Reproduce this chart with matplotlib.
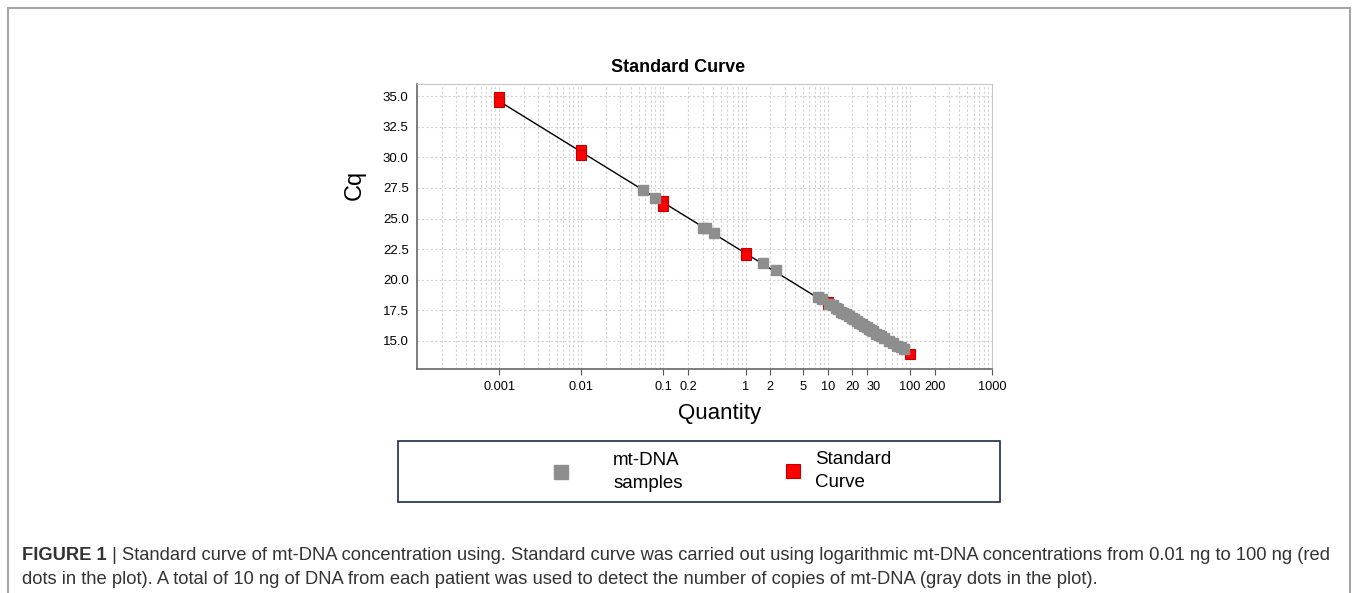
import matplotlib
matplotlib.use("Agg")
import matplotlib.pyplot as plt
import numpy as np
from matplotlib.patches import Rectangle

# standard curve points (replicates), quantity in ng
std_qty = [0.001, 0.001, 0.01, 0.01, 0.1, 0.1, 1, 1, 10, 10, 100]
std_cq = [34.9, 34.5, 30.6, 30.2, 26.4, 26.0, 22.2, 22.0, 18.2, 18.0, 13.9]

# mt-DNA samples
smp_qty = [0.057, 0.08, 0.30, 0.33, 0.41, 1.63, 2.34, 7.6, 8.5,
           10.5, 11.5, 12.5, 13.5, 14.5, 15.5, 16.5, 18, 19.5, 21, 22.5,
           24, 26, 28, 30, 32, 34, 36, 39, 42, 45, 48, 55, 62, 70, 78, 85]
smp_cq = [27.3, 26.7, 24.2, 24.2, 23.8, 21.4, 20.8, 18.6, 18.4,
          18.0, 17.9, 17.7, 17.6, 17.4, 17.3, 17.2, 17.0, 16.9, 16.8, 16.6,
          16.5, 16.4, 16.2, 16.1, 16.0, 15.9, 15.8, 15.6, 15.5, 15.4, 15.2, 15.0,
          14.8, 14.6, 14.5, 14.3]

xticks = [0.001, 0.01, 0.1, 0.2, 1, 2, 5, 10, 20, 30, 100, 200, 1000]
xticklabels = ["0.001", "0.01", "0.1", "0.2", "1", "2", "5", "10", "20", "30", "100", "200", "1000"]
yticks = [15.0, 17.5, 20.0, 22.5, 25.0, 27.5, 30.0, 32.5, 35.0]

plt.rcParams['font.family'] = ['Liberation Sans', 'DejaVu Sans']

W, H = 1355, 593
fig = plt.figure(figsize=(W / 100, H / 100), dpi=100)
fig.patches.append(Rectangle((8 / W, -0.05), 1342 / W, 1 - 8 / H + 0.05,
                             transform=fig.transFigure, fill=False,
                             edgecolor="#a6a6a6", lw=1.5))

ax = fig.add_axes([417 / W, 1 - 369 / H, 575 / W, 285 / H])
ax.set_xscale("log")
ax.set_xlim(1e-4, 1e3)
ax.set_ylim(12.7, 36.0)

# regression line through standards
b, a = np.polyfit(np.log10(std_qty), std_cq, 1)
lx = np.array([min(std_qty), max(std_qty)])
ax.plot(lx, a + b * np.log10(lx), color="black", lw=1.0, zorder=2)

red, = ax.plot(std_qty, std_cq, "s", ms=7.5, color="#ff0000",
               mec="#c00000", mew=0.8, zorder=3, label="Standard\nCurve")
gray, = ax.plot(smp_qty, smp_cq, "s", ms=7.5, color="#8e8e8e",
                mec="#8e8e8e", zorder=4, label="mt-DNA\nsamples")

ax.set_xticks(xticks)
ax.set_xticklabels(xticklabels, fontsize=9.2)
for lab in ax.get_xticklabels():
    if lab.get_text() == "30":
        lab.set_ha("left")
ax.xaxis.set_minor_locator(matplotlib.ticker.LogLocator(base=10, subs=np.arange(2, 10)))
ax.xaxis.set_minor_formatter(matplotlib.ticker.NullFormatter())
ax.tick_params(axis="x", which="major", length=4, pad=5, color="#555555")
ax.tick_params(axis="x", which="minor", length=0)
ax.set_yticks(yticks)
ax.set_yticklabels([f"{v:.1f}" for v in yticks], fontsize=9.5)
ax.tick_params(axis="y", length=0, pad=6)

ax.grid(True, which="both", axis="x", ls=(0, (2, 2)), color="#d2d2d2", lw=0.8)
ax.grid(True, which="major", axis="y", ls=(0, (2, 2)), color="#d2d2d2", lw=0.8)

for s in ["top", "right"]:
    ax.spines[s].set_color("#c8c8c8")
for s in ["left", "bottom"]:
    ax.spines[s].set_color("#666666")
    ax.spines[s].set_linewidth(1.2)

fig.text(678 / W, 1 - 68 / H, "Standard Curve", fontsize=13, fontweight="bold",
         ha="center", va="center")
fig.text(355 / W, 1 - 185 / H, "Cq", fontsize=17, rotation=90, ha="center", va="center")
fig.text(720 / W, 1 - 414 / H, "Quantity", fontsize=16, ha="center", va="center")

# legend box
fig.patches.append(Rectangle((398 / W, 1 - 502 / H), 602 / W, 61 / H,
                             transform=fig.transFigure, fill=False,
                             edgecolor="#1d2b46", lw=1.2))
leg1 = fig.legend(handles=[gray], loc="center left", bbox_to_anchor=(535 / W, 1 - 472 / H),
                  frameon=False, fontsize=13.5, handletextpad=2.27, handlelength=1.0,
                  markerscale=1.35)
leg2 = fig.legend(handles=[red], loc="center left", bbox_to_anchor=(767 / W, 1 - 471 / H),
                  frameon=False, fontsize=13.5, handletextpad=0.67, handlelength=1.0,
                  markerscale=1.35)
for lg in (leg1, leg2):
    for t in lg.get_texts():
        t.set_linespacing(1.45)
        t.set_multialignment("left")

# caption
cap_font = ['Liberation Sans', 'DejaVu Sans']
t1 = fig.text(22 / W, 1 - 556 / H, "FIGURE 1", fontsize=13.2, fontweight="bold",
              color="#333333", va="center", family=cap_font)
fig.canvas.draw()
bb = t1.get_window_extent()
fig.text(bb.x1 / W, 1 - 556 / H,
         " | Standard curve of mt-DNA concentration using. Standard curve was carried out using "
         "logarithmic mt-DNA concentrations from 0.01 ng to 100 ng (red",
         fontsize=13.2, color="#333333", va="center", family=cap_font)
fig.text(22 / W, 1 - 579 / H,
         "dots in the plot). A total of 10 ng of DNA from each patient was used to detect the number "
         "of copies of mt-DNA (gray dots in the plot).",
         fontsize=13.2, color="#333333", va="center", family=cap_font)

fig.savefig("out.png", dpi=100)
